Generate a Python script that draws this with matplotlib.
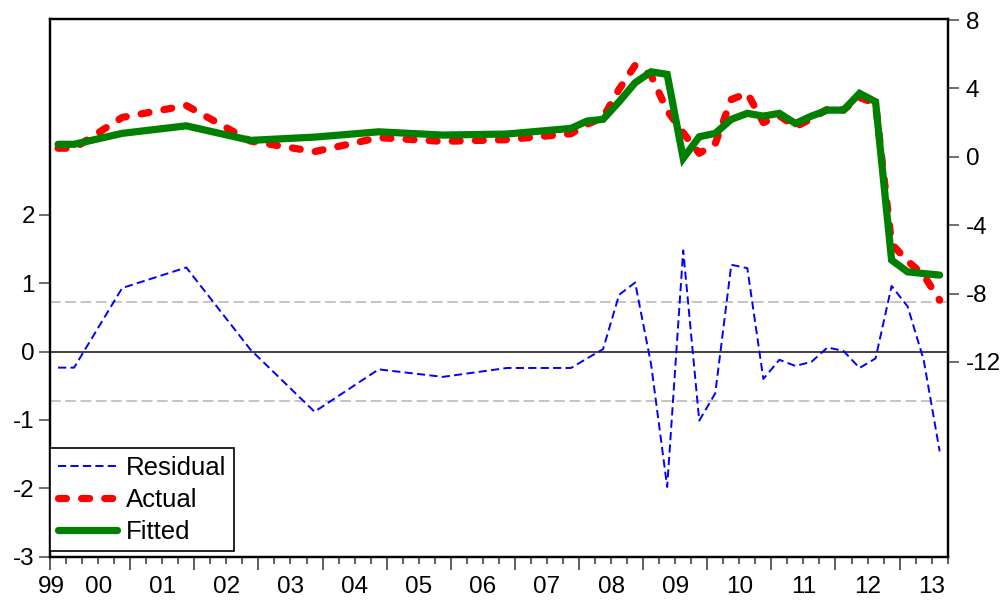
import numpy as np
import matplotlib
matplotlib.use("Agg")
import matplotlib.pyplot as plt

plt.rcParams['font.family'] = ['Liberation Sans', 'DejaVu Sans']

# ===== DATA =====
periods = ["1999Q4", "2000Q1", "2000Q4", "2001Q4", "2002Q4", "2003Q4", "2004Q4",
           "2005Q4", "2006Q4", "2007Q4",
           "2008Q1", "2008Q2", "2008Q3", "2008Q4",
           "2009Q1", "2009Q2", "2009Q3", "2009Q4",
           "2010Q1", "2010Q2", "2010Q3", "2010Q4",
           "2011Q1", "2011Q2", "2011Q3", "2011Q4",
           "2012Q1", "2012Q2", "2012Q3", "2012Q4",
           "2013Q1", "2013Q2", "2013Q3"]

actual = [0.50, 0.50, 2.30, 3.00, 0.92, 0.30, 1.12, 0.90, 1.00, 1.35,
          1.90, 2.30, 3.95, 5.35,
          4.75, 2.70, 1.40, 0.20,
          0.77, 3.35, 3.72, 2.00,
          2.40, 1.75, 2.23, 2.79,
          2.74, 3.47, 3.12, -5.10,
          -6.10, -6.92, -8.39]

fitted = [0.73, 0.73, 1.37, 1.81, 0.96, 1.15, 1.46, 1.27, 1.33, 1.66,
          2.09, 2.19, 3.22, 4.33,
          4.97, 4.82, -0.09, 1.17,
          1.37, 2.19, 2.54, 2.38,
          2.54, 1.95, 2.38, 2.73,
          2.73, 3.71, 3.22, -6.04,
          -6.73, -6.83, -6.92]

residual = [-0.235, -0.235, 0.93, 1.23, 0.03, -0.88, -0.26, -0.37, -0.24, -0.24,
            -0.10, 0.035, 0.83, 1.01,
            -0.19, -1.98, 1.48, -1.01,
            -0.61, 1.27, 1.22, -0.40,
            -0.12, -0.21, -0.15, 0.06,
            0.01, -0.24, -0.10, 0.96,
            0.66, -0.12, -1.46]

resid_sd = 0.725

year_labels = ["99", "00", "01", "02", "03", "04", "05", "06",
               "07", "08", "09", "10", "11", "12", "13"]
left_ticks = [-3, -2, -1, 0, 1, 2]
right_ticks = [-12, -8, -4, 0, 4, 8]


def to_time(p):
    # quarter mid-point in fractional years
    return int(p[:4]) + (int(p[5]) - 0.5) / 4.0


t = np.array([to_time(p) for p in periods])

# ===== FIGURE =====
fig = plt.figure(figsize=(10.07, 6.0), dpi=100)
ax = fig.add_axes([0.0497, 0.0722, 0.8914, 0.8956])
ax2 = ax.twinx()

# residual panel (left axis)
ax.axhline(0, color='#333333', lw=1.3, zorder=1)
ax.axhline(resid_sd, color='#b4b4b4', lw=1.1, dashes=(7, 3), zorder=1)
ax.axhline(-resid_sd, color='#b4b4b4', lw=1.1, dashes=(7, 3), zorder=1)
l_res, = ax.plot(t, residual, color='#0000ff', lw=1.4, dashes=(4.2, 2.2),
                 label='Residual', zorder=2)

# actual / fitted (right axis)
l_act, = ax2.plot(t, actual, color='#ff0000', lw=5.2, dashes=(1.1, 2.1),
                  dash_capstyle='round', label='Actual', zorder=3)
l_fit, = ax2.plot(t, fitted, color='#008000', lw=5.2, solid_capstyle='round',
                  solid_joinstyle='miter', label='Fitted', zorder=4)

ax.set_ylim(-3.0, 4.86)
ax2.set_ylim(-23.39, 8.04)
ax.set_xlim(1999.75, 2013.75)

# y ticks
ax.set_yticks(left_ticks)
ax.set_yticklabels([str(v) for v in left_ticks])
ax2.set_yticks(right_ticks)
ax2.set_yticklabels([str(v) for v in right_ticks])
ax.tick_params(axis='y', direction='out', length=8, width=1.2, pad=3,
               labelsize=17.5, color='#555555')
ax2.tick_params(axis='y', direction='out', length=8, width=1.2, pad=5,
                labelsize=17.5, color='#555555')

# x ticks: long marks at year starts, short at quarters, labels centred
major_pos = [1999.75] + list(range(2001, 2014))
ax.set_xticks(major_pos)
ax.set_xticklabels([])
ax.set_xticks(np.arange(1999.75, 2013.76, 0.25), minor=True)
ax.tick_params(axis='x', which='major', direction='out', length=9.2, width=1.2,
               color='#444444')
ax.tick_params(axis='x', which='minor', direction='out', length=4.8, width=1.2,
               color='#444444')

label_pos = [1999.77] + [y + 0.5 for y in range(2000, 2014)]
sec = ax.secondary_xaxis('bottom')
sec.set_xticks(label_pos)
sec.set_xticklabels(year_labels)
sec.tick_params(axis='x', length=0, pad=14.0, labelsize=17.5)
sec.spines['bottom'].set_visible(False)

for a in (ax, ax2):
    for s in a.spines.values():
        s.set_linewidth(1.6)
        s.set_color('black')

leg = ax2.legend(handles=[l_res, l_act, l_fit], loc='lower left',
                 bbox_to_anchor=(0.0, 0.01), borderaxespad=0,
                 fontsize=18.5, handlelength=2.3, handletextpad=0.35,
                 labelspacing=0.3, borderpad=0.3, fancybox=False,
                 framealpha=1, edgecolor='black')
leg.get_frame().set_linewidth(1.2)

fig.savefig('out.png', dpi=100)
